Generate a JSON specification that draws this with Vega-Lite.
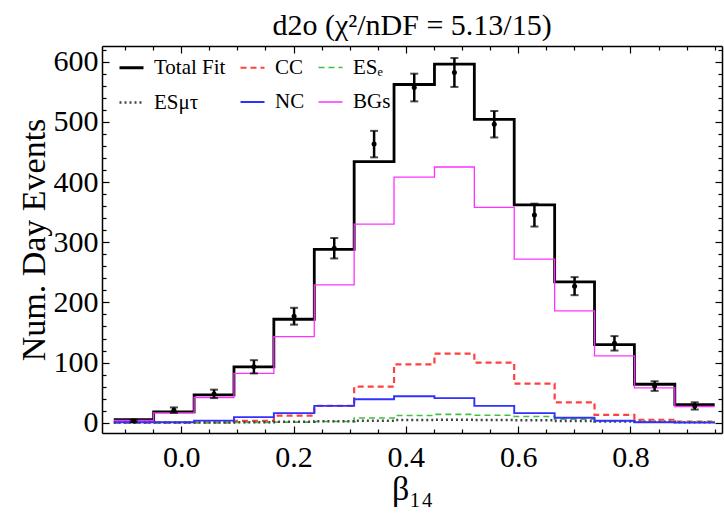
{
  "$schema": "https://vega.github.io/schema/vega-lite/v6.json",
  "width": 620,
  "height": 387,
  "autosize": {"type": "none"},
  "padding": {"left": 102, "top": 46, "right": 2, "bottom": 81},
  "background": "white",
  "config": {"view": {"stroke": null}},
  "title": {"text": "d2o (χ²/nDF = 5.13/15)", "font": "Liberation Serif", "fontSize": 30, "fontWeight": "normal", "color": "black", "anchor": "middle", "offset": 4},
  "data": {"values": [
    {"bin": 1, "lo": -0.12, "hi": -0.049, "c": -0.0845, "Total Fit": 5, "CC": 0, "ESₑ": 0, "ESμτ": 0.3, "NC": 0.8, "BGs": 4, "d": 3, "e": 2},
    {"bin": 2, "lo": -0.049, "hi": 0.023, "c": -0.013, "Total Fit": 18, "CC": 0.3, "ESₑ": 0.1, "ESμτ": 0.3, "NC": 0.8, "BGs": 16.5, "d": 21, "e": 4.5},
    {"bin": 3, "lo": 0.023, "hi": 0.094, "c": 0.0585, "Total Fit": 46.5, "CC": 0.8, "ESₑ": 0.3, "ESμτ": 0.5, "NC": 3.5, "BGs": 42, "d": 48, "e": 7},
    {"bin": 4, "lo": 0.094, "hi": 0.165, "c": 0.1295, "Total Fit": 93, "CC": 3, "ESₑ": 0.5, "ESμτ": 1, "NC": 9.4, "BGs": 82, "d": 93, "e": 11},
    {"bin": 5, "lo": 0.165, "hi": 0.237, "c": 0.201, "Total Fit": 172, "CC": 12, "ESₑ": 1, "ESμτ": 1.5, "NC": 16, "BGs": 143, "d": 177, "e": 14},
    {"bin": 6, "lo": 0.237, "hi": 0.308, "c": 0.2725, "Total Fit": 288, "CC": 28, "ESₑ": 2, "ESμτ": 2.5, "NC": 28, "BGs": 229, "d": 290, "e": 17},
    {"bin": 7, "lo": 0.308, "hi": 0.379, "c": 0.3435, "Total Fit": 434, "CC": 60, "ESₑ": 8, "ESμτ": 3.5, "NC": 39, "BGs": 330, "d": 463, "e": 22},
    {"bin": 8, "lo": 0.379, "hi": 0.451, "c": 0.415, "Total Fit": 562, "CC": 97, "ESₑ": 12, "ESμτ": 4.5, "NC": 44, "BGs": 408, "d": 557, "e": 23},
    {"bin": 9, "lo": 0.451, "hi": 0.522, "c": 0.4865, "Total Fit": 596, "CC": 115, "ESₑ": 14, "ESμτ": 5, "NC": 41, "BGs": 425, "d": 582, "e": 24},
    {"bin": 10, "lo": 0.522, "hi": 0.593, "c": 0.5575, "Total Fit": 504, "CC": 100, "ESₑ": 12.5, "ESμτ": 4.5, "NC": 28, "BGs": 358, "d": 496, "e": 22},
    {"bin": 11, "lo": 0.593, "hi": 0.665, "c": 0.629, "Total Fit": 362, "CC": 65, "ESₑ": 10.5, "ESμτ": 4, "NC": 16, "BGs": 272, "d": 345, "e": 19},
    {"bin": 12, "lo": 0.665, "hi": 0.736, "c": 0.7005, "Total Fit": 234, "CC": 34, "ESₑ": 6, "ESμτ": 3, "NC": 8.3, "BGs": 186, "d": 227, "e": 15},
    {"bin": 13, "lo": 0.736, "hi": 0.807, "c": 0.7715, "Total Fit": 130, "CC": 13, "ESₑ": 3, "ESμτ": 2, "NC": 3.3, "BGs": 111, "d": 132, "e": 12},
    {"bin": 14, "lo": 0.807, "hi": 0.879, "c": 0.843, "Total Fit": 64, "CC": 5, "ESₑ": 1.5, "ESμτ": 1.5, "NC": 0.8, "BGs": 58, "d": 61, "e": 8},
    {"bin": 15, "lo": 0.879, "hi": 0.95, "c": 0.9145, "Total Fit": 30, "CC": 2, "ESₑ": 1, "ESμτ": 1, "NC": 0.3, "BGs": 27, "d": 28, "e": 6}
  ]},
  "layer": [
    {
      "transform": [
        {"fold": ["Total Fit", "CC", "ESₑ", "ESμτ", "NC", "BGs"], "as": ["series", "val"]},
        {"fold": ["lo", "hi"], "as": ["side", "edge"]}
      ],
      "mark": {"type": "line", "interpolate": "linear"},
      "encoding": {
        "x": {"field": "edge", "type": "quantitative",
          "scale": {"domain": [-0.141, 0.963], "nice": false, "zero": false},
          "axis": {"orient": "bottom", "title": "β₁₄", "titleFont": "Liberation Serif", "titleFontSize": 34, "titleFontWeight": "normal", "titleColor": "black", "titlePadding": 0,
            "values": [0, 0.2, 0.4, 0.6, 0.8],
            "format": ".1f", "ticks": false,
            "labelOverlap": false, "labelFlush": false, "labelFont": "Liberation Serif", "labelFontSize": 30, "labelColor": "black", "labelPadding": 9,
            "domainColor": "black", "domainWidth": 1.5, "grid": false}},
        "y": {"field": "val", "type": "quantitative",
          "scale": {"domain": [-17, 626], "nice": false, "zero": false},
          "axis": {"orient": "left", "title": "Num. Day Events", "titleFont": "Liberation Serif", "titleFontSize": 34, "titleFontWeight": "normal", "titleColor": "black", "titlePadding": 2,
            "values": [0, 100, 200, 300, 400, 500, 600],
            "format": "d", "ticks": false,
            "labelOverlap": false, "labelFlush": false, "labelFont": "Liberation Serif", "labelFontSize": 30, "labelColor": "black", "labelPadding": 4,
            "domainColor": "black", "domainWidth": 1.5, "grid": false}},
        "color": {"field": "series", "type": "nominal",
          "scale": {"domain": ["Total Fit", "ESμτ", "CC", "NC", "ESₑ", "BGs"], "range": ["#000000", "#444444", "#ff4040", "#3030ff", "#40c040", "#ff30ff"]},
          "legend": {"orient": "none", "legendX": 16, "legendY": 8, "columns": 3, "title": null, "symbolType": "stroke", "symbolSize": 576, "labelFont": "Liberation Serif", "labelFontSize": 21, "labelColor": "black", "rowPadding": 11, "columnPadding": 10, "labelOffset": 9, "padding": 0}},
        "strokeDash": {"field": "series", "type": "nominal",
          "scale": {"domain": ["Total Fit", "ESμτ", "CC", "NC", "ESₑ", "BGs"], "range": [[1, 0], [2, 3], [6, 4], [1, 0], [6, 4], [1, 0]]}},
        "strokeWidth": {"field": "series", "type": "nominal",
          "scale": {"domain": ["Total Fit", "ESμτ", "CC", "NC", "ESₑ", "BGs"], "range": [2.8, 1.3, 1.5, 1.4, 1.5, 1.5]}},
        "order": [{"field": "edge", "type": "quantitative"}, {"field": "side", "type": "nominal"}]
      }
    },
    {
      "mark": {"type": "errorbar", "ticks": {"size": 8, "thickness": 2, "color": "black"}, "thickness": 2.5, "color": "black"},
      "encoding": {
        "x": {"field": "c", "type": "quantitative", "scale": {"domain": [-0.141, 0.963], "nice": false, "zero": false}, "axis": null},
        "y": {"field": "d", "type": "quantitative", "scale": {"domain": [-17, 626], "nice": false, "zero": false}, "axis": null},
        "yError": {"field": "e"}
      }
    },
    {
      "mark": {"type": "point", "filled": true, "size": 25, "color": "black", "opacity": 1},
      "encoding": {
        "x": {"field": "c", "type": "quantitative", "scale": {"domain": [-0.141, 0.963], "nice": false, "zero": false},
          "axis": {"orient": "top", "offset": -387, "title": null, "labels": false, "domain": false,
            "values": [-0.1, -0.05, 0, 0.05, 0.1, 0.15, 0.2, 0.25, 0.3, 0.35, 0.4, 0.45, 0.5, 0.55, 0.6, 0.65, 0.7, 0.75, 0.8, 0.85, 0.9, 0.95],
            "tickSize": {"condition": {"test": "abs(datum.value*5 - round(datum.value*5)) < 0.001", "value": 7}, "value": 4},
            "tickColor": "black", "tickWidth": 1.2, "grid": false}},
        "y": {"field": "d", "type": "quantitative", "scale": {"domain": [-17, 626], "nice": false, "zero": false},
          "axis": {"orient": "right", "offset": -620, "title": null, "labels": false, "domain": false,
            "values": [0, 20, 40, 60, 80, 100, 120, 140, 160, 180, 200, 220, 240, 260, 280, 300, 320, 340, 360, 380, 400, 420, 440, 460, 480, 500, 520, 540, 560, 580, 600, 620],
            "tickSize": {"condition": {"test": "datum.value % 100 == 0", "value": 7}, "value": 4},
            "tickColor": "black", "tickWidth": 1.2, "grid": false}}
      }
    },
    {
      "mark": {"type": "point", "opacity": 0},
      "encoding": {
        "x": {"field": "c", "type": "quantitative", "scale": {"domain": [-0.141, 0.963], "nice": false, "zero": false},
          "axis": {"orient": "bottom", "offset": -387, "title": null, "labels": false,
            "values": [-0.1, -0.05, 0, 0.05, 0.1, 0.15, 0.2, 0.25, 0.3, 0.35, 0.4, 0.45, 0.5, 0.55, 0.6, 0.65, 0.7, 0.75, 0.8, 0.85, 0.9, 0.95],
            "tickSize": {"condition": {"test": "abs(datum.value*5 - round(datum.value*5)) < 0.001", "value": 7}, "value": 4},
            "tickColor": "black", "tickWidth": 1.2, "domainColor": "black", "domainWidth": 1.5, "grid": false}},
        "y": {"field": "d", "type": "quantitative", "scale": {"domain": [-17, 626], "nice": false, "zero": false},
          "axis": {"orient": "left", "offset": -620, "title": null, "labels": false,
            "values": [0, 20, 40, 60, 80, 100, 120, 140, 160, 180, 200, 220, 240, 260, 280, 300, 320, 340, 360, 380, 400, 420, 440, 460, 480, 500, 520, 540, 560, 580, 600, 620],
            "tickSize": {"condition": {"test": "datum.value % 100 == 0", "value": 7}, "value": 4},
            "tickColor": "black", "tickWidth": 1.2, "domainColor": "black", "domainWidth": 1.5, "grid": false}}
      }
    }
  ],
  "resolve": {"axis": {"x": "independent", "y": "independent"}}
}
